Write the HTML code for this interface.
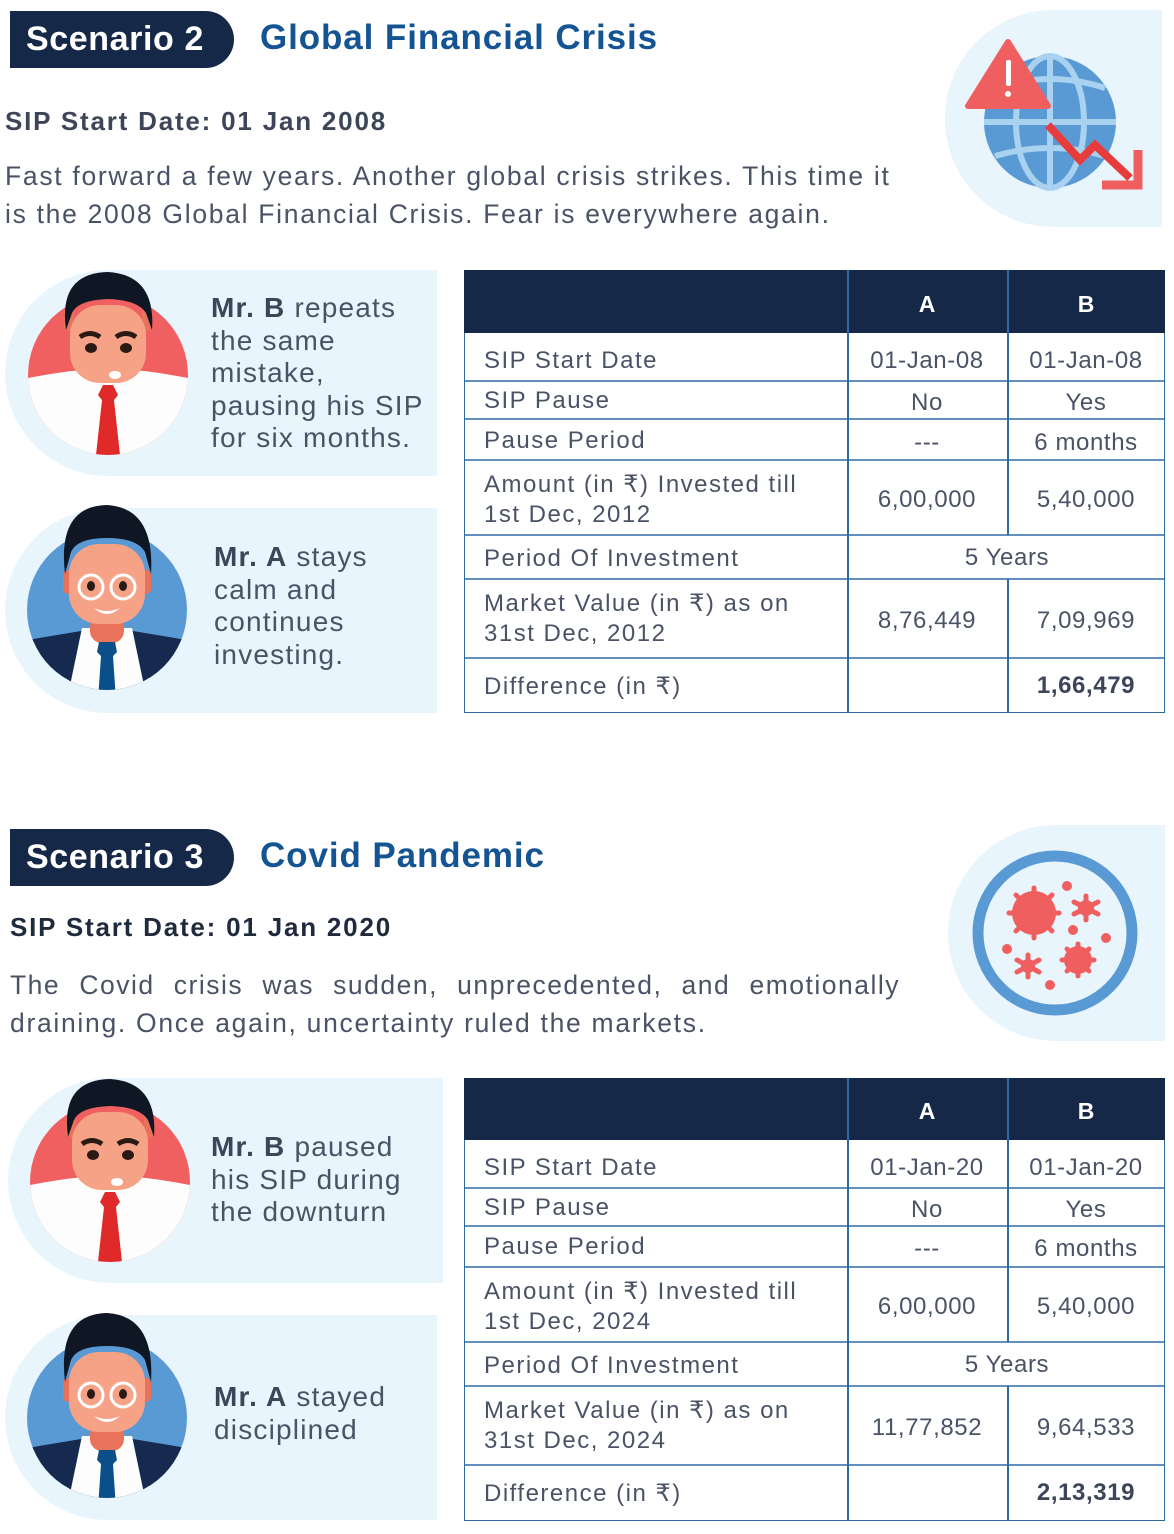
<!DOCTYPE html>
<html><head><meta charset="utf-8"><style>
*{margin:0;padding:0;box-sizing:border-box}
body{width:1174px;height:1534px;background:#fff;position:relative;overflow:hidden;font-family:"Liberation Sans",sans-serif;color:#4a5366}
.abs{position:absolute}
.badge{position:absolute;left:10px;width:224px;height:57px;background:#152848;border-radius:0 29px 29px 0;color:#fff;font-weight:bold;font-size:34px;line-height:57px;padding-left:16px;letter-spacing:0.6px}
.title{position:absolute;left:260px;color:#155493;font-weight:bold;font-size:35px;letter-spacing:0.9px}
.sub{position:absolute;font-weight:bold;font-size:26px;color:#3d4559;letter-spacing:1.8px}
.para{position:absolute;font-size:26.5px;line-height:38px;color:#4a5366;letter-spacing:1.7px;white-space:nowrap}
.panel{position:absolute;background:#e9f5fd}
.ptxt{position:absolute;font-size:28px;line-height:32.5px;color:#4a5366;letter-spacing:1.2px}
.ptxt b{color:#3d4559}
.tbl{position:absolute;left:464px;width:701px;border:1.5px solid #2f6aa5}
.hd{background:#152848}
</style></head><body>

<div class="badge" style="top:11px">Scenario 2</div>
<div class="title" style="top:18px">Global Financial Crisis</div>
<div class="sub" style="left:5px;top:106px">SIP Start Date: 01 Jan 2008</div>
<div class="para" style="left:5px;top:157px">Fast forward a few years. Another global crisis strikes. This time it<br>is the 2008 Global Financial Crisis. Fear is everywhere again.</div>

<div class="panel" style="left:945px;top:10px;width:217px;height:217px;border-radius:108px 0 0 108px"></div>
<svg class="abs" style="left:945px;top:10px" width="217" height="217" viewBox="945 10 217 217">
<circle cx="1050" cy="122" r="66" fill="#5a9ad4"/>
<g stroke="#a9d2f0" stroke-width="6" fill="none">
<line x1="984" y1="122" x2="1116" y2="122"/>
<line x1="1050" y1="56" x2="1050" y2="188"/>
<ellipse cx="1050" cy="122" rx="34" ry="66"/>
<path d="M995 88 Q1050 70 1105 88"/>
<path d="M995 156 Q1050 140 1105 156"/>
</g>
<path d="M1008 42 L1048 106 L968 106 Z" fill="#f05f5f" stroke="#f05f5f" stroke-width="6" stroke-linejoin="round"/>
<rect x="1006" y="60" width="5" height="26" rx="2" fill="#fff"/>
<circle cx="1008" cy="94" r="3" fill="#fff"/>
<polyline points="1048,125 1080,160 1095,145 1130,178" fill="none" stroke="#e83c3c" stroke-width="8"/>
<path d="M1102 185 L1138 185 L1138 150" fill="none" stroke="#f05f5f" stroke-width="9"/>
</svg>

<div class="panel" style="left:5px;top:270px;width:432px;height:206px;border-radius:103px 0 0 103px"></div>
<div class="panel" style="left:5px;top:508px;width:432px;height:205px;border-radius:103px 0 0 103px"></div>
<div class="panel" style="left:8px;top:1078px;width:435px;height:205px;border-radius:103px 0 0 103px"></div>
<div class="panel" style="left:5px;top:1315px;width:432px;height:205px;border-radius:103px 0 0 103px"></div>

<svg width="0" height="0" style="position:absolute">
<defs>
<clipPath id="cc"><circle cx="0" cy="0" r="80"/></clipPath>
<g id="avB">
<circle r="80" fill="#f06060"/>
<g clip-path="url(#cc)">
<path d="M-90 5 Q-40 -5 -20 -5 L20 -5 Q40 -5 90 5 L90 100 L-90 100 Z" fill="#fdfdfd"/>
<path d="M-5 10 L5 10 L10 20 L6 25 L12 80 L-12 80 L-6 25 L-10 20 Z" fill="#e02a2a"/>
</g>
<rect x="-44" y="-68" width="10" height="24" rx="5" fill="#e8735a"/>
<rect x="34" y="-68" width="10" height="24" rx="5" fill="#e8735a"/>
<rect x="-38" y="-70" width="76" height="78" rx="30" fill="#f6a286"/>
<path d="M-42 -45 Q-50 -102 0 -103 Q48 -100 44 -45 L38 -62 Q30 -75 0 -76 Q-30 -75 -36 -62 Z" fill="#0f1624"/>
<path d="M-28 -38 Q-18 -45 -8 -38" stroke="#2a1a14" stroke-width="5" fill="none"/>
<path d="M8 -38 Q18 -45 28 -38" stroke="#2a1a14" stroke-width="5" fill="none"/>
<ellipse cx="-17" cy="-27" rx="6" ry="5" fill="#2a1a14"/>
<ellipse cx="18" cy="-27" rx="6" ry="5" fill="#2a1a14"/>
<ellipse cx="7" cy="0" rx="6" ry="4" fill="#fff"/>
</g>
<g id="avA">
<circle r="80" fill="#5a9ad4"/>
<g clip-path="url(#cc)">
<path d="M-80 30 L-20 20 L20 20 L80 30 L90 100 L-90 100 Z" fill="#152a4e"/>
<path d="M-25 18 L25 18 L40 90 L-40 90 Z" fill="#fdfdfd"/>
<rect x="-17" y="5" width="34" height="28" rx="12" fill="#e8735a"/>
<path d="M-8 32 L8 32 L10 42 L6 46 L9 90 L-9 90 L-6 46 L-10 42 Z" fill="#0b4f8a"/>
</g>
<rect x="-44" y="-40" width="10" height="24" rx="5" fill="#e8735a"/>
<rect x="34" y="-40" width="10" height="24" rx="5" fill="#e8735a"/>
<rect x="-38" y="-66" width="76" height="80" rx="30" fill="#f6a286"/>
<path d="M-42 -36 Q-50 -104 0 -105 Q48 -102 44 -36 L38 -58 Q30 -72 0 -72 Q-30 -72 -36 -58 Z" fill="#0f1624"/>
<circle cx="-16" cy="-23" r="12" fill="none" stroke="#fff" stroke-width="3"/>
<circle cx="16" cy="-23" r="12" fill="none" stroke="#fff" stroke-width="3"/>
<ellipse cx="-16" cy="-24" rx="4" ry="5" fill="#2a1a14"/>
<ellipse cx="16" cy="-24" rx="4" ry="5" fill="#2a1a14"/>
<path d="M-13 -2 Q0 4 13 -2 Q0 10 -13 -2 Z" fill="#fff"/>
</g>
</defs>
</svg>

<svg class="abs" style="left:0;top:0" width="1174" height="1534">
<use href="#avB" x="108" y="375"/>
<use href="#avA" x="107" y="610"/>
<use href="#avB" x="110" y="1182"/>
<use href="#avA" x="107" y="1418"/>
</svg>

<div class="ptxt" style="left:211px;top:292px"><b>Mr. B</b> repeats<br>the same<br>mistake,<br>pausing his SIP<br>for six months.</div>
<div class="ptxt" style="left:214px;top:541px"><b>Mr. A</b> stays<br>calm and<br>continues<br>investing.</div>
<div class="ptxt" style="left:211px;top:1131px"><b>Mr. B</b> paused<br>his SIP during<br>the downturn</div>
<div class="ptxt" style="left:214px;top:1381px"><b>Mr. A</b> stayed<br>disciplined</div>

<div class="tbl" style="top:270px;height:443px"></div>
<div class="abs hd" style="left:464px;top:270px;width:701px;height:63px"></div>
<div class="abs" style="left:847px;top:270px;width:1.5px;height:443px;background:#2f6aa5"></div>
<div class="abs" style="left:1007px;top:270px;width:1.5px;height:265px;background:#2f6aa5"></div>
<div class="abs" style="left:1007px;top:579px;width:1.5px;height:134px;background:#2f6aa5"></div>
<div class="abs" style="left:847px;top:284px;width:160px;text-align:center;color:#fff;font-weight:bold;font-size:23px;line-height:40px">A</div>
<div class="abs" style="left:1007px;top:284px;width:158px;text-align:center;color:#fff;font-weight:bold;font-size:23px;line-height:40px">B</div>

<div class="tbl" style="top:1078px;height:443px"></div>
<div class="abs hd" style="left:464px;top:1078px;width:701px;height:62px"></div>
<div class="abs" style="left:847px;top:1078px;width:1.5px;height:443px;background:#2f6aa5"></div>
<div class="abs" style="left:1007px;top:1078px;width:1.5px;height:264px;background:#2f6aa5"></div>
<div class="abs" style="left:1007px;top:1386px;width:1.5px;height:135px;background:#2f6aa5"></div>
<div class="abs" style="left:847px;top:1091px;width:160px;text-align:center;color:#fff;font-weight:bold;font-size:23px;line-height:40px">A</div>
<div class="abs" style="left:1007px;top:1091px;width:158px;text-align:center;color:#fff;font-weight:bold;font-size:23px;line-height:40px">B</div>

<svg class="abs" style="left:0;top:0" width="1174" height="1534" font-family="Liberation Sans, sans-serif" font-size="24" fill="#4a5366">
<g stroke="#2f6aa5" stroke-width="1.5">
<line x1="464" x2="1165" y1="381" y2="381"/><line x1="464" x2="1165" y1="419" y2="419"/><line x1="464" x2="1165" y1="460" y2="460"/><line x1="464" x2="1165" y1="535" y2="535"/><line x1="464" x2="1165" y1="579" y2="579"/><line x1="464" x2="1165" y1="658" y2="658"/>
<line x1="464" x2="1165" y1="1188" y2="1188"/><line x1="464" x2="1165" y1="1226" y2="1226"/><line x1="464" x2="1165" y1="1267" y2="1267"/><line x1="464" x2="1165" y1="1342" y2="1342"/><line x1="464" x2="1165" y1="1386" y2="1386"/><line x1="464" x2="1165" y1="1465" y2="1465"/>
</g>
<g letter-spacing="1.5">
<text x="484" y="368">SIP Start Date</text>
<text x="484" y="408">SIP Pause</text>
<text x="484" y="448">Pause Period</text>
<text x="484" y="492">Amount (in ₹) Invested till</text>
<text x="484" y="522">1st Dec, 2012</text>
<text x="484" y="566">Period Of Investment</text>
<text x="484" y="611">Market Value (in ₹) as on</text>
<text x="484" y="641">31st Dec, 2012</text>
<text x="484" y="694">Difference (in ₹)</text>
</g>
<g text-anchor="middle" letter-spacing="0.6">
<text x="927" y="368">01-Jan-08</text><text x="1086" y="368">01-Jan-08</text>
<text x="927" y="410">No</text><text x="1086" y="410">Yes</text>
<text x="927" y="450">---</text><text x="1086" y="450">6 months</text>
<text x="927" y="507">6,00,000</text><text x="1086" y="507">5,40,000</text>
<text x="1007" y="565">5 Years</text>
<text x="927" y="628">8,76,449</text><text x="1086" y="628">7,09,969</text>
<text x="1086" y="693" font-weight="bold" fill="#3d4559">1,66,479</text>
</g>
<g letter-spacing="1.5">
<text x="484" y="1175">SIP Start Date</text>
<text x="484" y="1215">SIP Pause</text>
<text x="484" y="1254">Pause Period</text>
<text x="484" y="1299">Amount (in ₹) Invested till</text>
<text x="484" y="1329">1st Dec, 2024</text>
<text x="484" y="1373">Period Of Investment</text>
<text x="484" y="1418">Market Value (in ₹) as on</text>
<text x="484" y="1448">31st Dec, 2024</text>
<text x="484" y="1501">Difference (in ₹)</text>
</g>
<g text-anchor="middle" letter-spacing="0.6">
<text x="927" y="1175">01-Jan-20</text><text x="1086" y="1175">01-Jan-20</text>
<text x="927" y="1217">No</text><text x="1086" y="1217">Yes</text>
<text x="927" y="1256">---</text><text x="1086" y="1256">6 months</text>
<text x="927" y="1314">6,00,000</text><text x="1086" y="1314">5,40,000</text>
<text x="1007" y="1372">5 Years</text>
<text x="927" y="1435">11,77,852</text><text x="1086" y="1435">9,64,533</text>
<text x="1086" y="1500" font-weight="bold" fill="#3d4559">2,13,319</text>
</g>
</svg>

<div class="badge" style="top:829px">Scenario 3</div>
<div class="title" style="top:836px">Covid Pandemic</div>
<div class="sub" style="left:10px;top:912px;color:#1f2a3c">SIP Start Date: 01 Jan 2020</div>
<div class="para" style="left:10px;top:966px;width:890px;white-space:normal;text-align:justify;text-align-last:justify;letter-spacing:1.5px">The Covid crisis was sudden, unprecedented, and emotionally</div>
<div class="para" style="left:10px;top:1004px">draining. Once again, uncertainty ruled the markets.</div>

<div class="panel" style="left:948px;top:825px;width:217px;height:216px;border-radius:108px 0 0 108px"></div>
<svg class="abs" style="left:940px;top:820px" width="234" height="230" viewBox="0 0 234 230">
<circle cx="115" cy="113" r="77" fill="#e9f5fd" stroke="#5a9ad4" stroke-width="11"/>
<g fill="#f05f5f">
<circle cx="94" cy="93" r="22"/>
<g stroke="#f05f5f" stroke-width="5" stroke-linecap="round">
<line x1="94" y1="68" x2="94" y2="118"/><line x1="69" y1="93" x2="119" y2="93"/><line x1="76" y1="75" x2="112" y2="111"/><line x1="112" y1="75" x2="76" y2="111"/>
<line x1="146" y1="76" x2="146" y2="100"/><line x1="134" y1="82" x2="158" y2="94"/><line x1="158" y1="82" x2="134" y2="94"/>
<line x1="88" y1="135" x2="88" y2="157"/><line x1="77" y1="140" x2="99" y2="152"/><line x1="99" y1="140" x2="77" y2="152"/>
<line x1="138" y1="124" x2="138" y2="156"/><line x1="122" y1="140" x2="154" y2="140"/><line x1="127" y1="129" x2="149" y2="151"/><line x1="149" y1="129" x2="127" y2="151"/>
</g>
<circle cx="146" cy="88" r="8"/><circle cx="88" cy="146" r="7"/><circle cx="138" cy="140" r="14"/>
<circle cx="127" cy="66" r="5"/><circle cx="133" cy="110" r="5"/><circle cx="166" cy="118" r="5"/><circle cx="67" cy="129" r="5"/><circle cx="110" cy="165" r="5"/>
</g>
</svg>

</body></html>
